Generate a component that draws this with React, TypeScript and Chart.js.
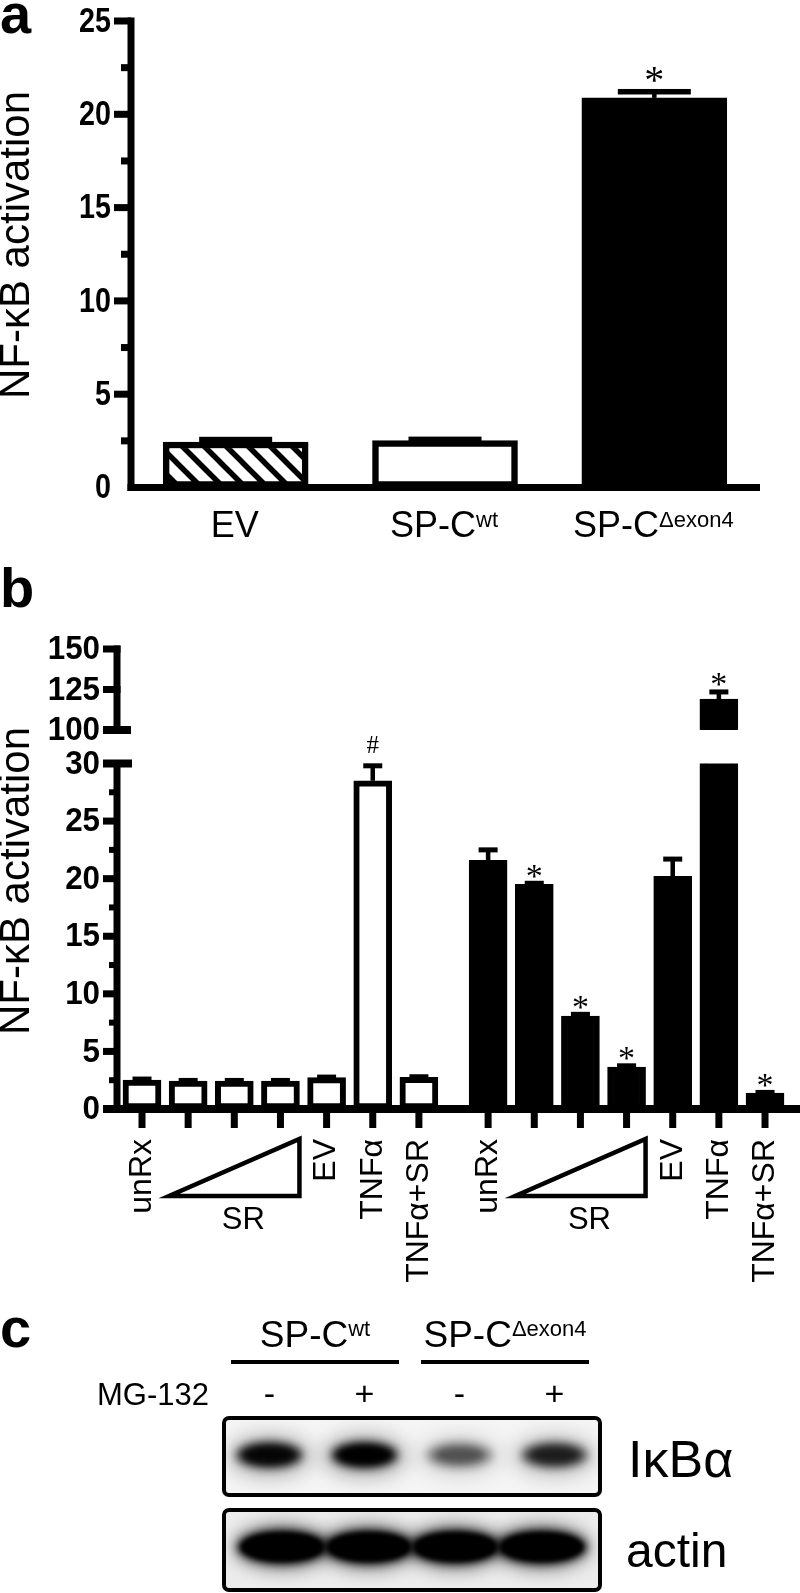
import React, { useEffect, useRef } from 'react';
import { Chart, registerables } from 'chart.js';

Chart.register(...registerables);

const SANS = '"Liberation Sans", Arial, Helvetica, sans-serif';
const SERIF = '"Liberation Serif", "Times New Roman", serif';

// ---------- Panel a data ----------
const aCategories = ['EV', 'SP-C', 'SP-C'];
const aCategorySup = ['', 'wt', 'Δexon4'];
const aValues = [2.44, 2.52, 20.88];
const aErrors = [0.13, 0.06, 0.33];
const aMarks = ['', '', '*'];
const aMajorTicks = [0, 5, 10, 15, 20, 25];
const aMinorTicks = [2.5, 7.5, 12.5, 17.5, 22.5];
const yAxisTitle = 'NF-κB activation';

// ---------- Panel b data ----------
const bLabels = ['unRx', '', '', '', 'EV', 'TNFα', 'TNFα+SR', 'unRx', '', '', '', 'EV', 'TNFα', 'TNFα+SR'];
const bGroup = [0, 0, 0, 0, 0, 0, 0, 1, 1, 1, 1, 1, 1, 1];
const bSrLevel = [0, 1, 2, 3, 0, 0, 0, 0, 1, 2, 3, 0, 0, 0];
const bValues = [2.52, 2.43, 2.43, 2.43, 2.72, 28.5, 2.75, 21.6, 19.5, 8.07, 3.65, 20.2, 119.1, 1.39];
const bErrors = [0.08, 0.05, 0.05, 0.05, 0.05, 1.3, 0.05, 0.9, 0.1, 0.15, 0.1, 1.5, 4.4, 0.05];
const bMarks = ['', '', '', '', '', '#', '', '', '*', '*', '*', '', '*', '*'];
const bLowerMajorTicks = [0, 5, 10, 15, 20, 25, 30];
const bLowerMinorTicks = [2.5, 7.5, 12.5, 17.5, 22.5, 27.5];
const bUpperTicks = [100, 125, 150];
const bSrText = 'SR';

// ---------- Panel c data ----------
const cGroups = ['SP-C', 'SP-C'];
const cGroupSup = ['wt', 'Δexon4'];
const cTreatmentLabel = 'MG-132';
const cTreatment = ['-', '+', '-', '+'];
const cIkbaIntensity = [0.9, 1.0, 0.42, 0.68];
const cActinIntensity = [1, 1, 1, 1];
const cBlotLabels = ['IκBα', 'actin'];

// ---------- layout (page px) ----------
const A_TOP = 0, A_H = 600;
const B1_TOP = 540, B1_H = 220;
const B2_TOP = 700, B2_H = 600;
const C_TOP = 1300, C_H = 293;
const B_BAR = 38;

const bPos = (i: number) => i + (bGroup[i] ? 0.5 : 0);

function drawText(ctx: CanvasRenderingContext2D, s: string, x: number, y: number, font: string,
  align: CanvasTextAlign = 'left', baseline: CanvasTextBaseline = 'alphabetic', sx = 1) {
  ctx.save();
  ctx.font = font; ctx.textAlign = align; ctx.textBaseline = baseline; ctx.fillStyle = '#000';
  ctx.translate(x, y); ctx.scale(sx, 1); ctx.fillText(s, 0, 0);
  ctx.restore();
}

function centerText(ctx: CanvasRenderingContext2D, s: string, x: number, cy: number, font: string) {
  ctx.save();
  ctx.font = font; ctx.textAlign = 'center'; ctx.textBaseline = 'alphabetic'; ctx.fillStyle = '#000';
  const m = ctx.measureText(s);
  const by = cy + (m.actualBoundingBoxAscent - m.actualBoundingBoxDescent) / 2;
  ctx.fillText(s, x, by);
  ctx.restore();
}

function rotText(ctx: CanvasRenderingContext2D, s: string, x: number, y: number, font: string,
  align: CanvasTextAlign, baseline: CanvasTextBaseline) {
  ctx.save();
  ctx.translate(x, y); ctx.rotate(-Math.PI / 2);
  ctx.font = font; ctx.textAlign = align; ctx.textBaseline = baseline; ctx.fillStyle = '#000';
  ctx.fillText(s, 0, 0);
  ctx.restore();
}

function supLabel(ctx: CanvasRenderingContext2D, main: string, sup: string, cx: number, base: number,
  fsMain: number, fsSup: number, supBase: number) {
  ctx.save();
  ctx.font = `${fsMain}px ${SANS}`;
  const w1 = ctx.measureText(main).width;
  ctx.font = `${fsSup}px ${SANS}`;
  const w2 = sup ? ctx.measureText(sup).width : 0;
  const x0 = cx - (w1 + w2) / 2;
  drawText(ctx, main, x0, base, `${fsMain}px ${SANS}`);
  if (sup) drawText(ctx, sup, x0 + w1, supBase, `${fsSup}px ${SANS}`);
  ctx.restore();
}

function makeHatch(): CanvasPattern | string {
  const T = 22;
  const c = document.createElement('canvas');
  c.width = T; c.height = T;
  const g = c.getContext('2d');
  if (!g) return '#fff';
  g.fillStyle = '#fff'; g.fillRect(0, 0, T, T);
  g.strokeStyle = '#000'; g.lineWidth = 5.5; g.lineCap = 'square';
  g.beginPath();
  for (const o of [-T, 0, T]) { g.moveTo(o, 0); g.lineTo(o + T, T); }
  g.stroke();
  return g.createPattern(c, 'repeat') || '#fff';
}

const panelAPlugin = {
  id: 'panelA',
  afterDatasetsDraw(chart: any) {
    const { ctx, chartArea: ca, scales } = chart;
    const x = scales.x, y = scales.y;
    ctx.save();
    ctx.fillStyle = '#000';
    const ax = ca.left;
    const y0 = y.getPixelForValue(0), yT = y.getPixelForValue(25);
    aValues.forEach((v, i) => {
      const px = x.getPixelForValue(i);
      const pv = y.getPixelForValue(v), pe = y.getPixelForValue(v + aErrors[i]);
      ctx.fillRect(px - 2.25, pe, 4.5, pv - pe);
      ctx.fillRect(px - 36.5, pe - 2.75, 73, 5.5);
      if (aMarks[i]) centerText(ctx, aMarks[i], px, pe - 17.5, `40px ${SERIF}`);
    });
    ctx.fillRect(ax - 3.5, yT - 3.5, 7, y0 - yT + 7);
    ctx.fillRect(ax - 3.5, y0 - 3.5, 760 - ax + 3.5, 7);
    aMajorTicks.forEach((t) => {
      const py = y.getPixelForValue(t);
      if (t !== 0) ctx.fillRect(114, py - 3.5, ax - 114, 7);
      drawText(ctx, String(t), 111, py + 1, `bold 35px ${SANS}`, 'right', 'middle', 0.82);
    });
    aMinorTicks.forEach((t) => {
      const py = y.getPixelForValue(t);
      ctx.fillRect(121, py - 3.5, ax - 121, 7);
    });
    aCategories.forEach((c, i) => supLabel(ctx, c, aCategorySup[i], x.getPixelForValue(i) - 1, 537 - A_TOP, 36, 22, 527 - A_TOP));
    rotText(ctx, yAxisTitle, 17, 245 - A_TOP, `42px ${SANS}`, 'center', 'middle');
    drawText(ctx, 'a', 0, 33 - A_TOP, `bold 56px ${SANS}`);
    ctx.restore();
  },
};

function drawBErrors(chart: any, lo: number, hi: number) {
  const { ctx, scales } = chart;
  const x = scales.x, y = scales.y;
  bValues.forEach((v, i) => {
    if (v < lo || v > hi) return;
    const px = x.getPixelForValue(bPos(i));
    const pv = y.getPixelForValue(v), pe = y.getPixelForValue(v + bErrors[i]);
    ctx.fillRect(px - 2.25, pe, 4.5, pv - pe);
    ctx.fillRect(px - B_BAR / 4, pe - 2.5, B_BAR / 2, 5);
    if (bMarks[i] === '*') centerText(ctx, '*', px, pe - 12, `34px ${SERIF}`);
    else if (bMarks[i]) centerText(ctx, bMarks[i], px, pe - 21, `25px ${SERIF}`);
  });
}

const panelBTopPlugin = {
  id: 'panelBTop',
  afterDatasetsDraw(chart: any) {
    const { ctx, chartArea: ca, scales } = chart;
    const y = scales.y;
    ctx.save();
    ctx.fillStyle = '#000';
    const ax = ca.left;
    const p150 = y.getPixelForValue(150), p100 = y.getPixelForValue(100);
    ctx.fillRect(ax - 3.5, p150 - 3.5, 7, p100 - p150 + 7);
    bUpperTicks.forEach((t) => {
      const py = y.getPixelForValue(t);
      if (t === 100) ctx.fillRect(103, py - 4, 131 - 103, 8);
      else ctx.fillRect(103, py - 3.5, ax - 103 + 3.5, 7);
      drawText(ctx, String(t), 100, py + 1, `bold 33px ${SANS}`, 'right', 'middle', 0.95);
    });
    drawBErrors(chart, 100, 150);
    drawText(ctx, 'b', 0, 607 - B1_TOP, `bold 56px ${SANS}`);
    ctx.restore();
  },
};

const panelBBottomPlugin = {
  id: 'panelBBottom',
  afterDatasetsDraw(chart: any) {
    const { ctx, chartArea: ca, scales } = chart;
    const x = scales.x, y = scales.y;
    ctx.save();
    ctx.fillStyle = '#000';
    const ax = ca.left;
    const y0 = y.getPixelForValue(0), y30 = y.getPixelForValue(30);
    drawBErrors(chart, 0, 30);
    ctx.fillRect(ax - 3.5, y30 - 3.5, 7, y0 - y30 + 7);
    bLowerMajorTicks.forEach((t) => {
      const py = y.getPixelForValue(t);
      if (t === 30) ctx.fillRect(103, py - 4, 132 - 103, 8);
      else ctx.fillRect(103, py - 3.5, ax - 103, 7);
      drawText(ctx, String(t), 100, py + 1, `bold 33px ${SANS}`, 'right', 'middle', 0.95);
    });
    bLowerMinorTicks.forEach((t) => {
      const py = y.getPixelForValue(t);
      ctx.fillRect(109, py - 3, ax - 109, 6);
    });
    // x axis
    ctx.fillRect(103, y0 - 4, 800 - 103, 8);
    const tickEnd = 1128 - B2_TOP;
    bLabels.forEach((lab, i) => {
      const px = x.getPixelForValue(bPos(i));
      ctx.fillRect(px - 3.5, y0, 7, tickEnd - y0);
      if (lab) rotText(ctx, lab, px, 1139 - B2_TOP, `32px ${SANS}`, 'right', 'middle');
    });
    // SR ramps
    let i = 0;
    while (i < bSrLevel.length) {
      if (bSrLevel[i] > 0) {
        let j = i;
        while (j + 1 < bSrLevel.length && bSrLevel[j + 1] > bSrLevel[j]) j++;
        const xl = x.getPixelForValue(bPos(i)) - B_BAR / 2;
        const xr = x.getPixelForValue(bPos(j)) + B_BAR / 2;
        const yb = 1196 - B2_TOP, yt = 1139 - B2_TOP;
        ctx.save();
        ctx.strokeStyle = '#000'; ctx.lineWidth = 4.5; ctx.lineJoin = 'miter';
        ctx.beginPath(); ctx.moveTo(xl, yb); ctx.lineTo(xr, yb); ctx.lineTo(xr, yt); ctx.closePath(); ctx.stroke();
        ctx.restore();
        drawText(ctx, bSrText, (xl + xr) / 2 + 9, 1229 - B2_TOP, `31px ${SANS}`, 'center', 'alphabetic');
        i = j + 1;
      } else i++;
    }
    rotText(ctx, yAxisTitle, 17, 881 - B2_TOP, `42px ${SANS}`, 'center', 'middle');
    ctx.restore();
  },
};

function bDataset(lo: number) {
  return {
    data: bValues.map((v, i) => ({ x: bPos(i), y: lo >= 100 ? (v >= lo ? v : null) : v })),
    backgroundColor: bGroup.map((g) => (g ? '#000' : '#fff')),
    borderColor: '#000',
    borderWidth: 6,
    borderSkipped: false,
    barThickness: B_BAR,
    clip: 0,
  };
}

function bOptions(padTop: number, padBottom: number, min: number, max: number) {
  return {
    responsive: false,
    animation: false as const,
    devicePixelRatio: 1,
    events: [],
    layout: { padding: { left: 117, right: 0, top: padTop, bottom: padBottom } },
    scales: {
      x: { type: 'linear' as const, display: false, min: -0.5417, max: 14.258, offset: false },
      y: { type: 'linear' as const, display: false, min, max },
    },
    plugins: { legend: { display: false }, tooltip: { enabled: false }, title: { display: false } },
  };
}

function drawPanelC(cv: HTMLCanvasElement) {
  const ctx = cv.getContext('2d');
  if (!ctx) return;
  ctx.clearRect(0, 0, cv.width, cv.height);
  const T = C_TOP;
  drawText(ctx, 'c', 0, 1347 - T, `bold 56px ${SANS}`);
  const boxL = 222, boxR = 602;
  const laneW = (boxR - boxL) / cTreatment.length;
  const lane = (i: number) => boxL + (i + 0.5) * laneW;
  ctx.fillStyle = '#000';
  cGroups.forEach((g, k) => {
    const cx = (lane(2 * k) + lane(2 * k + 1)) / 2 - 2;
    supLabel(ctx, g, cGroupSup[k], cx, 1347 - T, 37, 22, 1336 - T);
    ctx.fillStyle = '#000';
    ctx.fillRect(cx - 84, 1360 - T, 168, 4);
  });
  drawText(ctx, cTreatmentLabel, 209, 1405 - T, `31px ${SANS}`, 'right');
  cTreatment.forEach((s, i) => drawText(ctx, s, lane(i), 1405 - T, `34px ${SANS}`, 'center'));

  const box = (top: number, bottom: number, bg: string, bands: () => void) => {
    ctx.save();
    ctx.beginPath();
    ctx.roundRect(boxL + 2, top + 2, boxR - boxL - 4, bottom - top - 4, 5);
    ctx.fillStyle = bg; ctx.fill();
    ctx.clip();
    bands();
    ctx.restore();
    ctx.save();
    ctx.beginPath();
    ctx.roundRect(boxL + 2, top + 2, boxR - boxL - 4, bottom - top - 4, 5);
    ctx.strokeStyle = '#000'; ctx.lineWidth = 4; ctx.stroke();
    ctx.restore();
  };

  const ell = (cx: number, cy: number, rx: number, ry: number, a: number, blur: number) => {
    ctx.save();
    ctx.filter = `blur(${blur}px)`;
    ctx.globalAlpha = Math.min(1, a);
    ctx.fillStyle = '#000';
    ctx.beginPath(); ctx.ellipse(cx, cy, rx, ry, 0, 0, Math.PI * 2); ctx.fill();
    ctx.restore();
  };

  box(1416 - T, 1497 - T, '#f5f5f5', () => {
    const cy = 1455 - T;
    cIkbaIntensity.forEach((a, i) => {
      const cx = lane(i);
      ell(cx, cy + 1, 42, 21, a * 0.3, 10);
      ell(cx, cy, 33, 13, a, 5);
      ell(cx, cy, 24, 8, a * 0.8, 3);
    });
  });
  drawText(ctx, cBlotLabels[0], 628, 1477 - T, `52px ${SANS}`);

  box(1508 - T, 1592 - T, '#ececec', () => {
    const cy = 1547 - T;
    const mid = (boxL + boxR) / 2;
    cActinIntensity.forEach((a, i) => {
      const cx = mid + (lane(i) - mid) * 0.91;
      ell(cx, cy, 50, 24, a * 0.4, 8);
      ell(cx, cy, 45, 17, a, 4);
      ell(cx, cy, 41, 14, a, 2);
    });
  });
  drawText(ctx, cBlotLabels[1], 626, 1567 - T, `48px ${SANS}`);
}

export default function App() {
  const aRef = useRef<HTMLCanvasElement>(null);
  const b1Ref = useRef<HTMLCanvasElement>(null);
  const b2Ref = useRef<HTMLCanvasElement>(null);
  const cRef = useRef<HTMLCanvasElement>(null);

  useEffect(() => {
    const charts: Chart[] = [];
    if (aRef.current) {
      const hatch = makeHatch();
      charts.push(new Chart(aRef.current, {
        type: 'bar',
        data: {
          labels: aCategories.map((c, i) => c + aCategorySup[i]),
          datasets: [{
            data: aValues,
            backgroundColor: [hatch, '#fff', '#000'] as any,
            borderColor: '#000',
            borderWidth: 6.5,
            borderSkipped: false,
            barThickness: 145,
            clip: 0,
          } as any],
        },
        options: {
          responsive: false,
          animation: false,
          devicePixelRatio: 1,
          events: [],
          layout: { padding: { left: 131, right: 800 - 759, top: 21, bottom: A_H - 487.5 } },
          scales: {
            x: { type: 'category', display: false, offset: true },
            y: { type: 'linear', display: false, min: 0, max: 25 },
          },
          plugins: { legend: { display: false }, tooltip: { enabled: false } },
        } as any,
        plugins: [panelAPlugin],
      }));
    }
    if (b1Ref.current) {
      charts.push(new Chart(b1Ref.current, {
        type: 'bar',
        data: { datasets: [bDataset(100) as any] },
        options: bOptions(649 - B1_TOP, B1_TOP + B1_H - 730, 100, 150) as any,
        plugins: [panelBTopPlugin],
      }));
    }
    if (b2Ref.current) {
      charts.push(new Chart(b2Ref.current, {
        type: 'bar',
        data: { datasets: [bDataset(0) as any] },
        options: bOptions(763.5 - B2_TOP, B2_TOP + B2_H - 1109, 0, 30) as any,
        plugins: [panelBBottomPlugin],
      }));
    }
    if (cRef.current) drawPanelC(cRef.current);
    return () => { charts.forEach((c) => c.destroy()); };
  }, []);

  const cs = (top: number, h: number): React.CSSProperties => ({ position: 'absolute', left: 0, top, width: 800, height: h });

  return (
    <div style={{ position: 'absolute', left: 0, top: 0, width: 800, height: 1593, background: '#fff', overflow: 'hidden' }}>
      <canvas ref={aRef} width={800} height={A_H} style={cs(A_TOP, A_H)} />
      <canvas ref={b1Ref} width={800} height={B1_H} style={cs(B1_TOP, B1_H)} />
      <canvas ref={b2Ref} width={800} height={B2_H} style={cs(B2_TOP, B2_H)} />
      <canvas ref={cRef} width={800} height={C_H} style={cs(C_TOP, C_H)} />
    </div>
  );
}
